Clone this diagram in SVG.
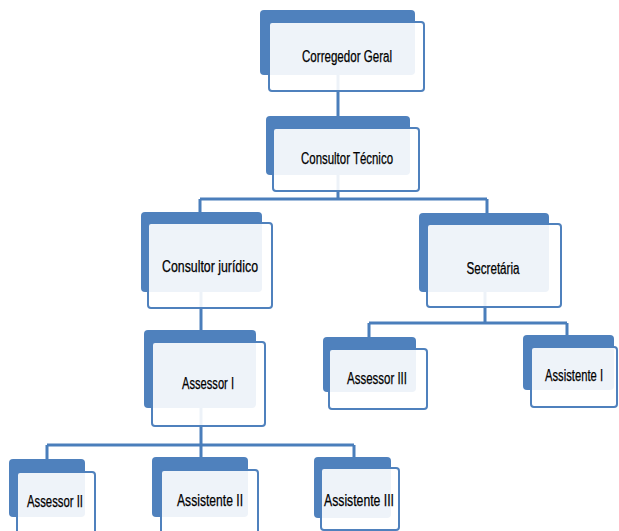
<svg xmlns="http://www.w3.org/2000/svg" width="619" height="531" viewBox="0 0 619 531">
<style>
.back{fill:#4F81BD;}
.front{fill:#FFFFFF;fill-opacity:0.9;stroke:#4F81BD;stroke-width:2;}
.lbl{font-family:"Liberation Sans",Arial,sans-serif;font-size:16px;fill:#000;stroke:#000;stroke-width:0.25;text-anchor:middle;}
.con{fill:none;stroke:#4A7EBB;stroke-width:3;}
</style>
<rect width="619" height="531" fill="#FFFFFF"/>
<g id="connectors">
<path class="con" d="M338,75 V116"/>
<path class="con" d="M338,175 V199 M200,199 H487 M200,199 V212 M487,199 V213"/>
<path class="con" d="M201,292 V330"/>
<path class="con" d="M485,292 V323 M369,323 H567 M369,323 V337 M567,323 V335"/>
<path class="con" d="M201,408 V445 M47,445 H354 M47,445 V459 M201,445 V457 M354,445 V457"/>
</g>
<g id="n1"><rect class="back" x="260" y="10" width="155" height="65" rx="4"/><rect class="front" x="269" y="22" width="155" height="69" rx="3"/><text class="lbl" x="347" y="62" textLength="90" lengthAdjust="spacingAndGlyphs">Corregedor Geral</text></g>
<g id="n2"><rect class="back" x="266" y="116" width="144" height="59" rx="4"/><rect class="front" x="273" y="128" width="146" height="63" rx="3"/><text class="lbl" x="347" y="164" textLength="92" lengthAdjust="spacingAndGlyphs">Consultor Técnico</text></g>
<g id="n3"><rect class="back" x="141" y="212" width="121" height="80" rx="4"/><rect class="front" x="148" y="223" width="124" height="85" rx="3"/><text class="lbl" x="210" y="272" textLength="96" lengthAdjust="spacingAndGlyphs">Consultor jurídico</text></g>
<g id="n4"><rect class="back" x="419" y="213" width="130" height="79" rx="4"/><rect class="front" x="427" y="224" width="134" height="83" rx="3"/><text class="lbl" x="493" y="274" textLength="53" lengthAdjust="spacingAndGlyphs">Secretária</text></g>
<g id="n5"><rect class="back" x="144" y="330" width="112" height="78" rx="4"/><rect class="front" x="152" y="342" width="113" height="84" rx="3"/><text class="lbl" x="208" y="389" textLength="52" lengthAdjust="spacingAndGlyphs">Assessor I</text></g>
<g id="n6"><rect class="back" x="323" y="337" width="93" height="55" rx="4"/><rect class="front" x="329" y="349" width="98" height="60" rx="3"/><text class="lbl" x="377" y="384" textLength="60" lengthAdjust="spacingAndGlyphs">Assessor III</text></g>
<g id="n7"><rect class="back" x="523" y="335" width="91" height="55" rx="4"/><rect class="front" x="531" y="347" width="86" height="60" rx="3"/><text class="lbl" x="574" y="381" textLength="58" lengthAdjust="spacingAndGlyphs">Assistente I</text></g>
<g id="n8"><rect class="back" x="9" y="459" width="76" height="58" rx="4"/><rect class="front" x="17" y="472" width="78" height="65" rx="3"/><text class="lbl" x="55" y="507" textLength="56" lengthAdjust="spacingAndGlyphs">Assessor II</text></g>
<g id="n9"><rect class="back" x="152" y="457" width="96" height="60" rx="4"/><rect class="front" x="161" y="470" width="97" height="67" rx="3"/><text class="lbl" x="210" y="506" textLength="66" lengthAdjust="spacingAndGlyphs">Assistente II</text></g>
<g id="n10"><rect class="back" x="314" y="457" width="77" height="61" rx="4"/><rect class="front" x="321" y="468" width="78" height="62" rx="3"/><text class="lbl" x="359" y="506" textLength="70" lengthAdjust="spacingAndGlyphs">Assistente III</text></g>
</svg>
